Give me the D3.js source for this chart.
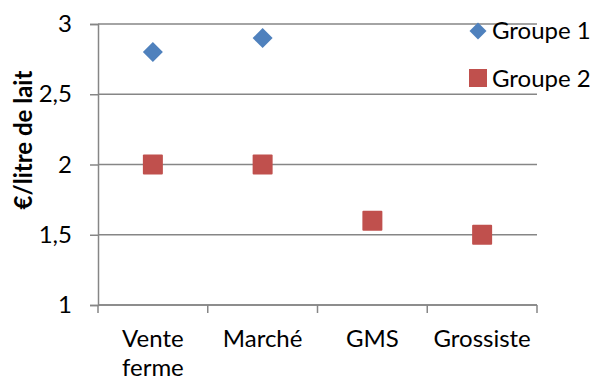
<!DOCTYPE html>
<html>
<head>
<meta charset="utf-8">
<script src="https://cdn.jsdelivr.net/npm/d3@7"></script>
<style>
  body { margin: 0; background: #fff; }
  svg { font-family: Lato, "Open Sans", sans-serif; }
</style>
</head>
<body>
<div id="chart"></div>
<script>
// data
const categories = ["Vente ferme", "Marché", "GMS", "Grossiste"];
const groupe1 = [2.8, 2.9, null, null];
const groupe2 = [2.0, 2.0, 1.6, 1.5];
const yTicks = [1, 1.5, 2, 2.5, 3];
const seriesNames = ["Groupe 1", "Groupe 2"];

const width = 595, height = 380;
const margin = { top: 24, right: 58, bottom: 75, left: 98 };
const innerW = width - margin.left - margin.right;
const innerH = height - margin.top - margin.bottom;

const svg = d3.select("#chart").append("svg")
  .attr("width", width)
  .attr("height", height);

const g = svg.append("g")
  .attr("transform", `translate(${margin.left},${margin.top})`);

const x = d3.scaleBand().domain(categories).range([0, innerW]);
const y = d3.scaleLinear().domain([1, 3]).range([innerH, 0]);

const gridColor = "#868686";

// gridlines
g.selectAll(".grid")
  .data(yTicks)
  .enter()
  .append("line")
  .attr("x1", 0)
  .attr("x2", innerW)
  .attr("y1", d => y(d))
  .attr("y2", d => y(d))
  .attr("stroke", gridColor)
  .attr("stroke-width", 1.5);

// y axis
const yAxis = g.append("g")
  .call(d3.axisLeft(y).tickValues(yTicks).tickSize(8).tickPadding(18)
    .tickFormat(d => String(d).replace(".", ",")));
yAxis.select(".domain").attr("stroke", gridColor).attr("stroke-width", 1.5);
yAxis.selectAll(".tick line").attr("stroke", gridColor).attr("stroke-width", 1.5);
yAxis.selectAll("text")
  .attr("font-size", 24)
  .attr("font-family", "Lato, sans-serif")
  .attr("fill", "#000");

// x axis: ticks at band boundaries
const xAxisG = g.append("g").attr("transform", `translate(0,${innerH})`);
xAxisG.append("line")
  .attr("x1", 0).attr("x2", innerW)
  .attr("stroke", gridColor).attr("stroke-width", 1.5);
const bounds = categories.map(c => x(c)).concat([innerW]);
xAxisG.selectAll(".xtick")
  .data(bounds)
  .enter()
  .append("line")
  .attr("x1", d => d).attr("x2", d => d)
  .attr("y1", 0).attr("y2", 8)
  .attr("stroke", gridColor).attr("stroke-width", 1.5);

const xLabels = xAxisG.selectAll(".xlabel")
  .data(categories)
  .enter()
  .append("text")
  .attr("x", d => x(d) + x.bandwidth() / 2)
  .attr("y", 42)
  .attr("text-anchor", "middle")
  .attr("font-size", 24)
  .attr("fill", "#000");
xLabels.each(function (d) {
  const words = d.split(" ");
  const t = d3.select(this);
  words.forEach((w, i) => {
    t.append("tspan")
      .attr("x", x(d) + x.bandwidth() / 2)
      .attr("dy", i === 0 ? 0 : 29)
      .text(w);
  });
});

// y label
svg.append("text")
  .attr("transform", "translate(32,140) rotate(-90)")
  .attr("text-anchor", "middle")
  .attr("font-size", 24)
  .attr("font-weight", "bold")
  .attr("fill", "#000")
  .text("€/litre de lait");

const blue = "#4F81BD", red = "#C0504D";
const diamond = d3.symbol().type(d3.symbolDiamond2).size(255);

// Groupe 1 diamonds
g.selectAll(".g1")
  .data(categories.map((c, i) => ({ c, v: groupe1[i] })).filter(d => d.v != null))
  .enter()
  .append("path")
  .attr("d", diamond)
  .attr("transform", d => `translate(${x(d.c) + x.bandwidth() / 2},${y(d.v)})`)
  .attr("fill", blue);

// Groupe 2 squares
g.selectAll(".g2")
  .data(categories.map((c, i) => ({ c, v: groupe2[i] })).filter(d => d.v != null))
  .enter()
  .append("rect")
  .attr("x", d => x(d.c) + x.bandwidth() / 2 - 10)
  .attr("y", d => y(d.v) - 10)
  .attr("width", 20)
  .attr("height", 20)
  .attr("rx", 1)
  .attr("fill", red);

// legend
const legend = svg.append("g").attr("transform", "translate(478,31)");
legend.append("path")
  .attr("d", d3.symbol().type(d3.symbolDiamond2).size(184))
  .attr("fill", blue);
legend.append("text")
  .attr("x", 14).attr("y", 8)
  .attr("font-size", 24).attr("fill", "#000")
  .text(seriesNames[0]);
legend.append("rect")
  .attr("x", -9).attr("y", 38).attr("width", 18).attr("height", 18)
  .attr("fill", red);
legend.append("text")
  .attr("x", 14).attr("y", 56)
  .attr("font-size", 24).attr("fill", "#000")
  .text(seriesNames[1]);
</script>
</body>
</html>
